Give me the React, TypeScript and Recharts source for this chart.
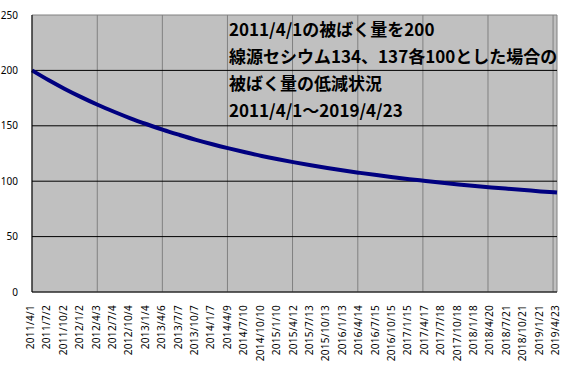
import React from 'react';
import { LineChart, Line, XAxis, YAxis, ReferenceArea, ReferenceLine } from 'recharts';

// days elapsed since 2011/4/1 for each axis label
const dayOffsets = [
  0, 92, 184, 276, 368, 460, 552, 644, 736, 828, 920, 1012, 1104, 1196, 1288, 1380, 1472,
  1564, 1656, 1748, 1840, 1932, 2024, 2116, 2208, 2300, 2392, 2484, 2576, 2668, 2760, 2852, 2944,
];

const dateLabels = [
  "2011/4/1", "2011/7/2", "2011/10/2", "2012/1/2", "2012/4/3", "2012/7/4", "2012/10/4", "2013/1/4",
  "2013/4/6", "2013/7/7", "2013/10/7", "2014/1/7", "2014/4/9", "2014/7/10", "2014/10/10", "2015/1/10",
  "2015/4/12", "2015/7/13", "2015/10/13", "2016/1/13", "2016/4/14", "2016/7/15", "2016/10/15", "2017/1/15",
  "2017/4/17", "2017/7/18", "2017/10/18", "2018/1/18", "2018/4/20", "2018/7/21", "2018/10/21", "2019/1/21",
  "2019/4/23",
];

const exposure = [
  200, 191.3, 183.3, 175.9, 169.0, 162.7, 156.8, 151.4, 146.3, 141.7, 137.3, 133.3, 129.6, 126.1, 122.8, 119.8,
  117.0, 114.4, 111.9, 109.6, 107.5, 105.5, 103.6, 101.8, 100.2, 98.6, 97.1, 95.7, 94.4, 93.2, 92.0, 90.8,
  89.8,
];

// April 1 of each year, as day offsets
const yearLines = [366, 731, 1096, 1461, 1827, 2192, 2557, 2922];
const yTicks = [0, 50, 100, 150, 200, 250];

const titleLines = [
  "2011/4/1の被ばく量を200",
  "線源セシウム134、137各100とした場合の",
  "被ばく量の低減状況",
  "2011/4/1～2019/4/23",
];

const data = dayOffsets.map((d, i) => ({ day: d, value: exposure[i] }));

const font = '"Noto Sans", "Noto Sans CJK JP", sans-serif';

const XTick = (props: any) => {
  const { x, y, payload } = props;
  const idx = dayOffsets.indexOf(payload.value);
  return (
    <text
      transform={`translate(${x + 2},${y + 5}) rotate(-90)`}
      textAnchor="end"
      fontSize={10}
      letterSpacing={0.3}
      fontFamily={font}
      fill="#000"
    >
      {dateLabels[idx]}
    </text>
  );
};

const YTick = (props: any) => {
  const { x, y, payload } = props;
  return (
    <text x={x - 6} y={y} dy="0.35em" textAnchor="end" fontSize={10} fontFamily={font} fill="#000">
      {payload.value}
    </text>
  );
};

const App: React.FC = () => {
  return (
    <div style={{ position: 'absolute', left: 0, top: 0, width: 568, height: 365, background: '#fff' }}>
      <LineChart width={568} height={365} data={data} margin={{ top: 15, right: 11, left: 0, bottom: 0 }}>
        <XAxis
          dataKey="day"
          type="number"
          domain={[0, 2944]}
          ticks={dayOffsets}
          interval={0}
          height={73}
          tick={<XTick />}
          tickLine={false}
          axisLine={{ stroke: '#000' }}
        />
        <YAxis
          type="number"
          domain={[0, 250]}
          ticks={yTicks}
          width={32}
          tick={<YTick />}
          tickLine={false}
          axisLine={{ stroke: '#000' }}
        />
        <ReferenceArea x1={0} x2={2944} y1={0} y2={250} fill="#c0c0c0" fillOpacity={1} stroke="#808080" />
        {yearLines.map((d) => (
          <ReferenceLine key={d} x={d} stroke="#808080" />
        ))}
        {yTicks.slice(1, -1).map((v) => (
          <ReferenceLine key={v} y={v} stroke="#000" />
        ))}
        <Line
          type="monotone"
          dataKey="value"
          stroke="#000080"
          strokeWidth={4}
          dot={false}
          isAnimationActive={false}
        />
      </LineChart>
      <div
        style={{
          position: 'absolute',
          left: 229,
          top: 15,
          fontFamily: '"Noto Sans CJK JP", sans-serif',
          fontWeight: 'bold',
          fontSize: 17,
          lineHeight: '27px',
          color: '#000',
          whiteSpace: 'nowrap',
        }}
      >
        {titleLines.map((t) => (
          <div key={t}>{t}</div>
        ))}
      </div>
    </div>
  );
};

export default App;
